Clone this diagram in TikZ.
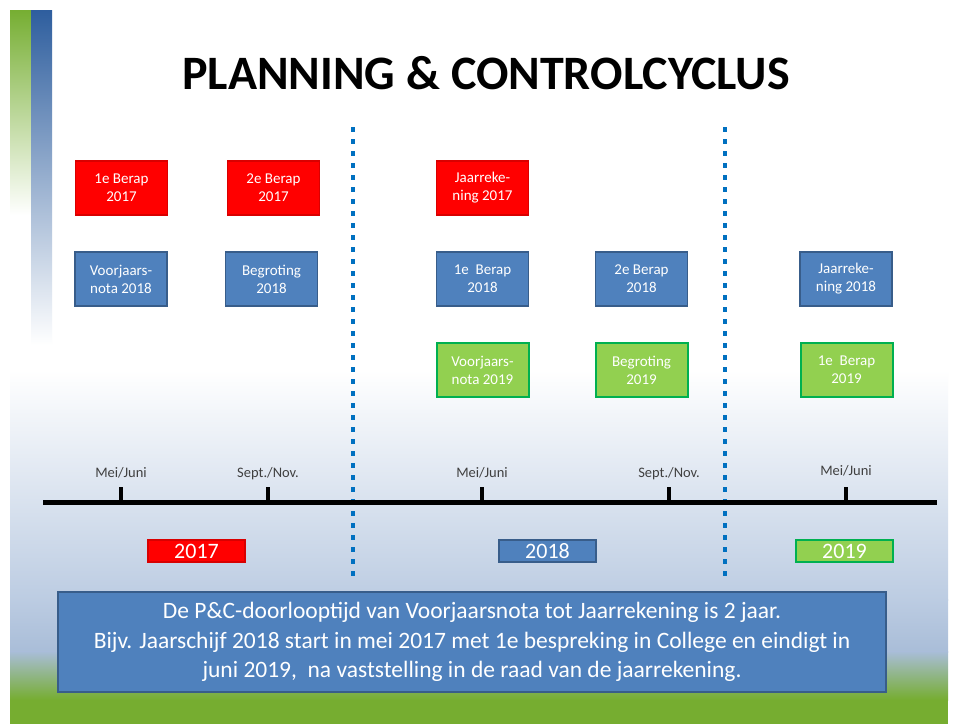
\documentclass[tikz,border=0pt]{standalone}
\usepackage{fontspec}
\setmainfont{Carlito}
\definecolor{boxred}{HTML}{FF0000}
\definecolor{boxredline}{HTML}{C00000}
\definecolor{boxblue}{HTML}{4F81BD}
\definecolor{boxblueline}{HTML}{385D8A}
\definecolor{boxgreen}{HTML}{92D050}
\definecolor{boxgreenline}{HTML}{00B050}
\definecolor{dotblue}{HTML}{0070C0}
\definecolor{bgblue}{HTML}{BCCCE2}
\definecolor{bgblue2}{HTML}{A9BDD8}
\definecolor{bggreen}{HTML}{76AD30}
\definecolor{barblue}{HTML}{2E5E9E}
\definecolor{bargreen}{HTML}{76AE32}
\definecolor{lbl}{HTML}{404040}
\tikzset{
  pbox/.style={minimum width=92pt, minimum height=54pt, inner sep=0pt, align=center,
    line width=1.6pt, text=white, font=\fontsize{15}{18}\selectfont},
  redbox/.style={pbox, fill=boxred, draw=boxredline!60!boxred},
  bluebox/.style={pbox, fill=boxblue, draw=boxblueline},
  greenbox/.style={pbox, fill=boxgreen, draw=boxgreenline, line width=2pt},
  yearbox/.style={minimum width=97pt, minimum height=22pt, inner sep=0pt, text=white,
    font=\fontsize{22}{22}\selectfont, line width=1.2pt},
  tlabel/.style={text=lbl, font=\fontsize{14.5}{15}\selectfont, inner sep=0pt},
  tick/.style={line width=4pt, black},
  divider/.style={dotblue, line width=4pt, dash pattern=on 5pt off 7pt}
}
\begin{document}
\begin{tikzpicture}[x=1pt,y=-1pt]
\useasboundingbox (0,0) rectangle (956,724);
% background
\fill[white] (0,0) rectangle (956,724);
\shade[top color=white, bottom color=bgblue] (10,370) rectangle (948,600);
\shade[top color=bgblue, bottom color=bgblue2] (10,599.5) rectangle (948,652);
\shade[top color=bgblue2, bottom color=bggreen] (10,651.5) rectangle (948,700);
\fill[bggreen] (10,699.5) rectangle (948,724);
% left bars
\shade[top color=bargreen, bottom color=white] (10,10) rectangle (31,215);
\shade[top color=barblue, bottom color=white] (31,10) rectangle (52,345);
% title
\node[font=\fontsize{48}{52}\selectfont\bfseries, inner sep=0pt] (title) at (486,73) {PLANNING \& CONTROLCYCLUS};
% row 1
\node[redbox] (b11) at (121.5,188) {1e Berap\\2017};
\node[redbox] (b12) at (273.5,188) {2e Berap\\2017};
\node[redbox] (b13) at (482.5,188) {Jaarreke-\\ning 2017};
% row 2
\node[bluebox] (b21) at (121,279) {Voorjaars-\\nota 2018};
\node[bluebox] (b22) at (271.5,279) {Begroting\\2018};
\node[bluebox] (b23) at (482.5,279) {1e~ Berap\\2018};
\node[bluebox] (b24) at (641.5,279) {2e Berap\\2018};
\node[bluebox] (b25) at (846,279) {Jaarreke-\\ning 2018};
% row 3
\node[greenbox] (b31) at (482.5,370) {Voorjaars-\\nota 2019};
\node[greenbox] (b32) at (641.5,370) {Begroting\\2019};
\node[greenbox] (b33) at (846.5,370) {1e~ Berap\\2019};
% dividers
\coordinate (d1a) at (353,127); \coordinate (d1b) at (353,578);
\coordinate (d2a) at (725,127); \coordinate (d2b) at (725,578);
\draw[divider] (d1a) -- (d1b);
\draw[divider] (d2a) -- (d2b);
% timeline
\coordinate (tlL) at (43,502); \coordinate (tlR) at (937,502);
\draw[line width=5pt, black] (tlL) -- (tlR);
\coordinate (k1) at (121,487); \coordinate (k2) at (268,487); \coordinate (k3) at (482,487);
\coordinate (k4) at (669,487); \coordinate (k5) at (846,487);
\foreach \k in {k1,k2,k3,k4,k5} \draw[tick] (\k) -- (\k |- tlL);
\node[tlabel] (m1) at (121,473) {Mei/Juni};
\node[tlabel] (m2) at (268,474) {Sept./Nov.};
\node[tlabel] (m3) at (482,473) {Mei/Juni};
\node[tlabel] (m4) at (669,474) {Sept./Nov.};
\node[tlabel] (m5) at (846,471) {Mei/Juni};
% year boxes
\node[yearbox, fill=boxred, draw=boxredline!60!boxred] (y1) at (196.5,551) {2017};
\node[yearbox, fill=boxblue, draw=boxblueline] (y2) at (547.5,551) {2018};
\node[yearbox, fill=boxgreen, draw=boxgreenline, line width=1.8pt] (y3) at (844.5,551) {2019};
% bottom box
\node[minimum width=828pt, minimum height=100pt, inner sep=0pt, fill=boxblue, draw=boxblueline,
  line width=1.6pt, text=white, align=center, font=\fontsize{23.5}{29.5}\selectfont] (note) at (472,642)
  {De P\&C-doorlooptijd van Voorjaarsnota tot Jaarrekening is 2 jaar.\\
   Bijv. Jaarschijf 2018 start in mei 2017 met 1e bespreking in College en eindigt in\\
   juni 2019,~ na vaststelling in de raad van de jaarrekening.};
\end{tikzpicture}
\end{document}
